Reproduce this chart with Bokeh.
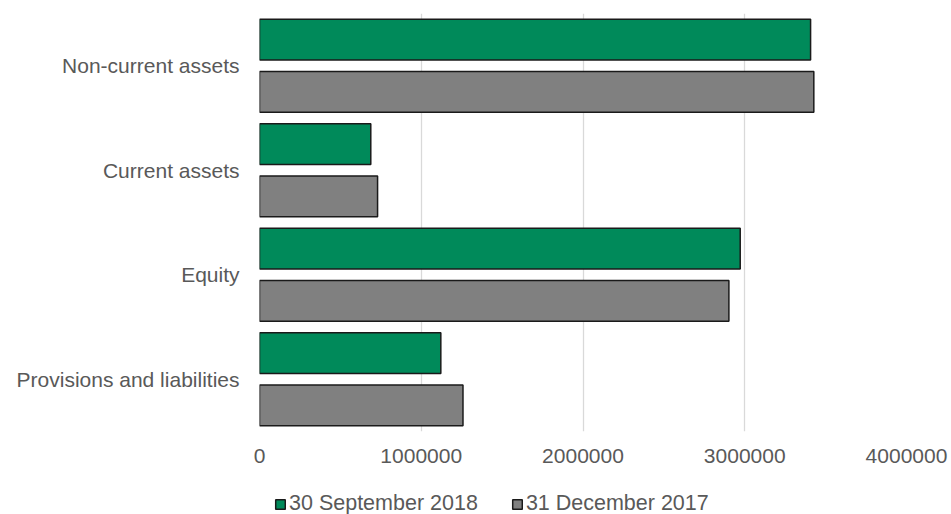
from bokeh.plotting import figure
from bokeh.layouts import column
from bokeh.models import ColumnDataSource, FactorRange, Range1d, NumeralTickFormatter, FixedTicker, Legend, LegendItem
from bokeh.transform import dodge
from bokeh.embed import file_html
from bokeh.resources import INLINE

categories = ["Provisions and liabilities", "Equity", "Current assets", "Non-current assets"]
values_2018 = [1121000, 2972000, 688000, 3407000]
values_2017 = [1258000, 2902000, 730000, 3427000]
series_names = ["30 September 2018", "31 December 2017"]
x_ticks = [0, 1000000, 2000000, 3000000, 4000000]

FONT = "Liberation Sans"
TXT = "#595959"
GREEN = "#008A5A"
GREY = "#808080"
EDGE = "#1a1a1a"

source = ColumnDataSource(data=dict(cat=categories, v2018=values_2018, v2017=values_2017))

p = figure(
    y_range=FactorRange(factors=categories, range_padding=0),
    x_range=Range1d(0, 4000000),
    output_backend="svg", toolbar_location=None,
    width=951, height=473,
    min_border_left=259, min_border_right=45, min_border_top=13, min_border_bottom=42,
)
p.outline_line_color = None
p.background_fill_color = "white"
p.border_fill_color = "white"

p.hbar(y=dodge("cat", 0.25, range=p.y_range), right="v2018", left=0, height=0.39,
       source=source, fill_color=GREEN, line_color=EDGE, line_width=1.5)
p.hbar(y=dodge("cat", -0.25, range=p.y_range), right="v2017", left=0, height=0.39,
       source=source, fill_color=GREY, line_color=EDGE, line_width=1.5)

p.xaxis.ticker = FixedTicker(ticks=x_ticks)
p.xaxis.formatter = NumeralTickFormatter(format="0")
for ax in (p.xaxis, p.yaxis):
    ax.axis_line_color = None
    ax.major_tick_line_color = None
    ax.minor_tick_line_color = None
    ax.major_tick_out = 0
    ax.major_tick_in = 0
    ax.major_label_text_font = FONT
    ax.major_label_text_font_size = "21px"
    ax.major_label_text_color = TXT
p.xaxis.major_label_standoff = 17
p.yaxis.major_label_standoff = 20

p.xgrid.grid_line_color = "#D9D9D9"
p.xgrid.grid_line_width = 1.3
p.ygrid.grid_line_color = None

# legend strip underneath the chart (frame aligned with the chart frame)
p2 = figure(
    width=951, height=41, output_backend="svg", toolbar_location=None,
    x_range=Range1d(0, 1), y_range=Range1d(1, 2),
    min_border=0, min_border_left=0, min_border_right=0, min_border_top=0, min_border_bottom=0,
)
p2.axis.visible = False
p2.grid.visible = False
p2.outline_line_color = None
p2.border_fill_color = "white"
p2.background_fill_color = "white"

# legend key proxies, placed outside the visible range of the strip
proxy = ColumnDataSource(data=dict(y=[0], right=[0]))
k1 = p2.hbar(y="y", right="right", left=0, height=0.1, source=proxy,
             fill_color=GREEN, line_color=EDGE, line_width=1.5)
k2 = p2.hbar(y="y", right="right", left=0, height=0.1, source=proxy,
             fill_color=GREY, line_color=EDGE, line_width=1.5)

legend = Legend(
    items=[LegendItem(label=series_names[0], renderers=[k1]),
           LegendItem(label=series_names[1], renderers=[k2])],
    orientation="horizontal",
    location=(15, -2),
    glyph_width=12, glyph_height=12,
    label_standoff=3, spacing=33,
    padding=0, margin=0,
    border_line_color=None, background_fill_alpha=0,
    label_text_font=FONT, label_text_font_size="21.5px", label_text_color=TXT,
)
p2.add_layout(legend, "center")

layout = column(p, p2, spacing=0)
open("out.html", "w").write(file_html(layout, INLINE))
